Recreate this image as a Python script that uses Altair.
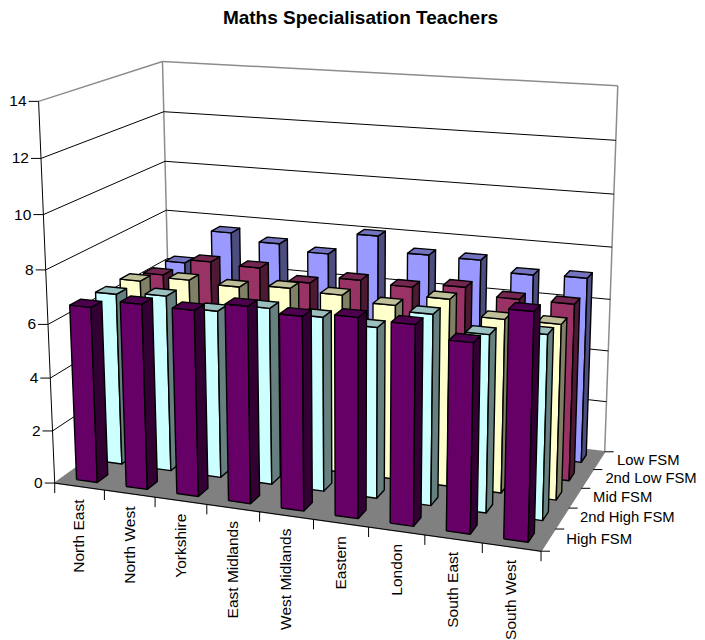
import numpy as np
import pandas as pd
import altair as alt

regions = ["North East", "North West", "Yorkshire", "East Midlands", "West Midlands",
           "Eastern", "London", "South East", "South West"]
bands = ["High FSM", "2nd High FSM", "Mid FSM", "2nd Low FSM", "Low FSM"]
high_fsm = [6.61, 6.92, 6.89, 7.23, 7.07, 7.23, 7.18, 6.76, 8.02]
second_high_fsm = [6.57, 6.69, 6.32, 6.62, 6.49, 6.32, 6.99, 6.47, 6.68]
mid_fsm = [6.56, 6.78, 6.70, 6.84, 6.77, 6.58, 7.00, 6.46, 6.48]
second_low_fsm = [6.30, 6.99, 6.93, 6.53, 6.82, 6.74, 6.92, 6.66, 6.67]
low_fsm = [6.29, 7.67, 7.40, 7.17, 8.04, 7.47, 7.45, 7.06, 7.12]
series = [high_fsm, second_high_fsm, mid_fsm, second_low_fsm, low_fsm]
front_colors = ["#660066", "#CCFFFF", "#FFFFCC", "#993366", "#9999FF"]
top_colors = ["#4D004D", "#99BFBF", "#BFBF99", "#732650", "#7373BF"]
side_colors = ["#330033", "#668080", "#808066", "#4D1933", "#4D4D80"]
y_ticks = [0, 2, 4, 6, 8, 10, 12, 14]

# camera matrix of the 3D view (category, band, value) -> screen
P = np.array([[48.626944, 27.884834, -1.29536, 54.732453],
              [2.065227, -5.921156, -27.635528, 483.049651],
              [-0.009991, 0.026947, -0.003676, 1.0]])
N_C, N_B, V_MAX = len(regions), len(bands), 14
LO, HI = 0.29, 0.71


def proj(u, w, v):
    q = P @ np.array([u, w, v, 1.0])
    return float(q[0] / q[2]), float(q[1] / q[2])


polys, lines, texts = [], [], []
count = [0]


def add_poly(corners, fill, stroke="#000000"):
    pid = f"p{count[0]:04d}"
    count[0] += 1
    for k, c in enumerate(list(corners) + [corners[0]]):
        x, y = proj(*c)
        polys.append(dict(pid=pid, seq=k, x=x, y=y, fill=fill, stroke=stroke))


def add_line(a, b, group, off=(0, 0)):
    pid = f"l{count[0]:04d}"
    count[0] += 1
    x0, y0 = proj(*a)
    x1, y1 = proj(*b)
    lines.append(dict(pid=pid, seq=0, x=x0, y=y0, group=group))
    lines.append(dict(pid=pid, seq=1, x=x1 + off[0], y=y1 + off[1], group=group))


# floor
add_poly([(0, 0, 0), (N_C, 0, 0), (N_C, N_B, 0), (0, N_B, 0)], "#808080", "#808080")
# bars, back row first, left to right
for j in range(N_B - 1, -1, -1):
    for i in range(N_C):
        v = series[j][i]
        u0, u1, w0, w1 = i + LO, i + HI, j + LO, j + HI
        add_poly([(u0, w0, 0), (u1, w0, 0), (u1, w0, v), (u0, w0, v)], front_colors[j])
        add_poly([(u1, w0, 0), (u1, w1, 0), (u1, w1, v), (u1, w0, v)], side_colors[j])
        add_poly([(u0, w0, v), (u1, w0, v), (u1, w1, v), (u0, w1, v)], top_colors[j])

# walls and gridlines
for tv in y_ticks[1:-1]:
    add_line((0, 0, tv), (0, N_B, tv), "grid")
    add_line((0, N_B, tv), (N_C, N_B, tv), "grid")
add_line((0, 0, V_MAX), (0, N_B, V_MAX), "wall")
add_line((0, N_B, V_MAX), (N_C, N_B, V_MAX), "wall")
add_line((0, N_B, 0), (0, N_B, V_MAX), "wall")
add_line((N_C, N_B, 0), (N_C, N_B, V_MAX), "wall")
n_back = len(lines)

# axes
add_line((0, 0, 0), (0, 0, V_MAX), "axis")
add_line((0, 0, 0), (N_C, 0, 0), "axis")
for tv in y_ticks:
    add_line((0, 0, tv), (0, 0, tv), "axis", off=(-10, 0))
    x, y = proj(0, 0, tv)
    texts.append(dict(x=x - 12, y=y, t=str(tv), kind="val"))
for i in range(N_C + 1):
    add_line((i, 0, 0), (i, 0, 0), "axis", off=(0, 10))
for j in range(N_B + 1):
    add_line((N_C, j, 0), (N_C, j, 0), "axis", off=(9, 0))
for i, r in enumerate(regions):
    x, y = proj(i + 0.5, 0, 0)
    texts.append(dict(x=x, y=y + 13, t=r, kind="cat"))
for j, b in enumerate(bands):
    x, y = proj(N_C, j + 0.5, 0)
    texts.append(dict(x=x + 18, y=y, t=b, kind="band"))

X = alt.X("x:Q", axis=None, scale=alt.Scale(domain=[8, 697], nice=False, zero=False))
Y = alt.Y("y:Q", axis=None, scale=alt.Scale(domain=[640, 8], nice=False, zero=False))

df_lines = pd.DataFrame(lines)
back_df = df_lines.iloc[:n_back]
axis_df = df_lines.iloc[n_back:]
tx = pd.DataFrame(texts)
FONT = "Liberation Sans"
LABEL = 15.5
BAND_LABEL = 14.8


def line_layer(d, color, width):
    return alt.Chart(d).mark_line(color=color, strokeWidth=width).encode(
        x=X, y=Y, detail="pid:N", order="seq:Q")


grid = line_layer(back_df[back_df.group == "grid"], "#000000", 1)
walls = line_layer(back_df[back_df.group == "wall"], "#8C8C8C", 1.5)
axes = line_layer(axis_df, "#000000", 1)

bars = alt.Chart(pd.DataFrame(polys)).mark_line(strokeWidth=1.4, strokeJoin="round").encode(
    x=X, y=Y, detail="pid:N", order="seq:Q",
    fill=alt.Fill("fill:N", scale=None),
    stroke=alt.Stroke("stroke:N", scale=None),
)

val_text = alt.Chart(tx[tx.kind == "val"]).mark_text(
    align="right", baseline="middle", font=FONT, fontSize=LABEL, color="#000000").encode(x=X, y=Y, text="t:N")
cat_text = alt.Chart(tx[tx.kind == "cat"]).mark_text(
    align="right", baseline="middle", angle=270, font=FONT, fontSize=LABEL, color="#000000").encode(x=X, y=Y, text="t:N")
band_text = alt.Chart(tx[tx.kind == "band"]).mark_text(
    align="left", baseline="middle", font=FONT, fontSize=BAND_LABEL, color="#000000").encode(x=X, y=Y, text="t:N")
title_df = pd.DataFrame([dict(x=360.5, y=18, t="Maths Specialisation Teachers")])
title = alt.Chart(title_df).mark_text(
    align="center", baseline="middle", font=FONT, fontSize=19, fontWeight="bold", color="#000000").encode(x=X, y=Y, text="t:N")

chart = alt.layer(walls, grid, bars, axes, val_text, cat_text, band_text, title).properties(
    width=689, height=632, padding=0, autosize=alt.AutoSizeParams(type="none")
).configure_view(stroke=None)

chart.save("out.html", embed_options={"renderer": "svg", "actions": False})
